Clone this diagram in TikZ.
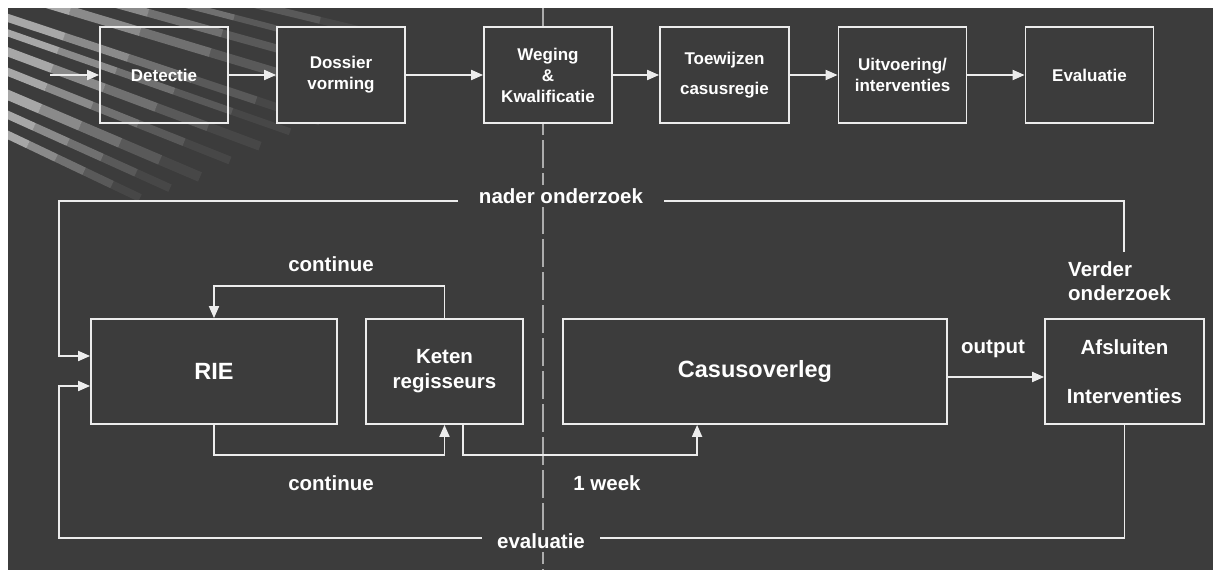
\documentclass[tikz,border=0pt]{standalone}
\usepackage{fontspec}
\setmainfont{Liberation Sans}
\usetikzlibrary{arrows.meta}
\definecolor{bg}{RGB}{60,60,60}
\definecolor{ln}{RGB}{236,236,236}
\begin{document}
\begin{tikzpicture}[x=1pt,y=-1pt,
  box/.style={draw=ln, line width=1.8pt, minimum height=96pt, text=white,
    font=\bfseries\fontsize{17}{21}\selectfont, align=center, inner sep=0pt},
  bbox/.style={draw=ln, line width=1.8pt, minimum height=105pt, text=white,
    font=\bfseries\fontsize{20.5}{25}\selectfont, align=center, inner sep=0pt, fill=bg},
  bigtxt/.style={font=\bfseries\fontsize{23.5}{28}\selectfont},
  lab/.style={text=white, font=\bfseries\fontsize{20.5}{24}\selectfont, inner sep=0pt},
  arr/.style={draw=ln, line width=1.8pt, -{Triangle[length=12pt,width=10pt]}},
  fold/.style={draw=gray!65, line width=1.2pt, dash pattern=on 28pt off 5pt}]
\useasboundingbox (0,0) rectangle (1213,570);
\fill[white] (0,0) rectangle (1213,570);
\fill[bg] (8,8) rectangle (1213,570);
% decorative stripes, top-left corner
\begin{scope}
\clip (8,8) rectangle (1213,570);
\foreach \yy/\w/\st in {-55/7/80,-41/6/78,-26/8/74,-8/9/70,18/8/64,33/7/58,52/9/52,72/8/46,95/10/40,115/8/34,135/8/28}{
  \pgfmathsetmacro\sl{(\yy+250)/808}
  \foreach \k/\op in {0/.55,1/.4,2/.27,3/.15,4/.06}{
    \pgfmathsetmacro\xa{\k*\st}
    \pgfmathsetmacro\xb{(\k+1)*\st}
    \pgfmathsetmacro\ya{-250+\sl*(\xa+800)}
    \pgfmathsetmacro\yb{-250+\sl*(\xb+800)}
    \draw[white,opacity=\op,line width=\w pt] (\xa,\ya) -- (\xb,\yb);
  }
}
\end{scope}
% fold line
\coordinate (foldtop) at (543,8);
\coordinate (foldbot) at (543,570);
\draw[fold] (foldtop) -- (foldbot);
% top row
\node[box, minimum width=128pt] (det) at (164,75) {Detectie};
\node[box, fill=bg, minimum width=128pt] (dos) at (341,75) {Dossier\\vorming};
\node[box, fill=bg, minimum width=128pt] (weg) at (548,75) {Weging\\\&\\Kwalificatie};
\node[box, fill=bg, minimum width=129pt] (toe) at (724.5,75) {Toewijzen\\[9pt]casusregie};
\node[box, fill=bg, minimum width=128pt] (uit) at (902.5,75) {Uitvoering/\\interventies};
\node[box, fill=bg, minimum width=128pt] (eva) at (1089.5,75) {Evaluatie};
\coordinate (start) at (50,75);
\draw[arr] (start) -- (det.west);
\draw[arr] (det.east) -- (dos.west);
\draw[arr] (dos.east) -- (weg.west);
\draw[arr] (weg.east) -- (toe.west);
\draw[arr] (toe.east) -- (uit.west);
\draw[arr] (uit.east) -- (eva.west);
% bottom row
\node[bbox, bigtxt, minimum width=246pt] (rie) at (214,371.5) {RIE};
\node[bbox, minimum width=157pt] (ket) at (444.5,371.5) {Keten\\regisseurs};
\node[bbox, bigtxt, minimum width=384pt] (cas) at (755,371.5) {Casusoverleg};
\node[bbox, minimum width=159pt] (afs) at (1124.5,371.5) {Afsluiten\\[24pt]Interventies};
% connectors
\draw[arr] (ket.north) -- ++(0,-32) -| (rie.north);
\draw[arr] (rie.south) -- ++(0,30) -| (ket.south);
\draw[arr] ([xshift=18.5pt]ket.south) -- ++(0,30) -| ([xshift=135pt]cas.south west);
\draw[arr] ([yshift=-5.5pt]cas.east) -- ([yshift=-5.5pt]afs.west);
\coordinate (vo) at (1124,252);
\coordinate (nl) at (59,201);
\draw[arr] (vo) |- (nl) |- ([yshift=15.5pt]rie.west);
\coordinate (el) at (59,538);
\draw[arr] (afs.south) |- (el) |- ([yshift=-14.5pt]rie.west);
% labels
\node[lab] (c1) at (331,264) {continue};
\node[lab] (c2) at (331,483) {continue};
\node[lab] (wk) at (607,483) {1 week};
\node[lab] (out) at (993,349) {output};
\node[lab, fill=bg, inner xsep=21pt, inner ysep=3pt] (nad) at (561,196) {nader onderzoek};
\node[lab, fill=bg, inner xsep=15pt, inner ysep=3pt] (evl) at (541,541) {evaluatie};
\node[lab, align=left, anchor=north west] (ver) at (1068,261) {Verder\\onderzoek};
\end{tikzpicture}
\end{document}
